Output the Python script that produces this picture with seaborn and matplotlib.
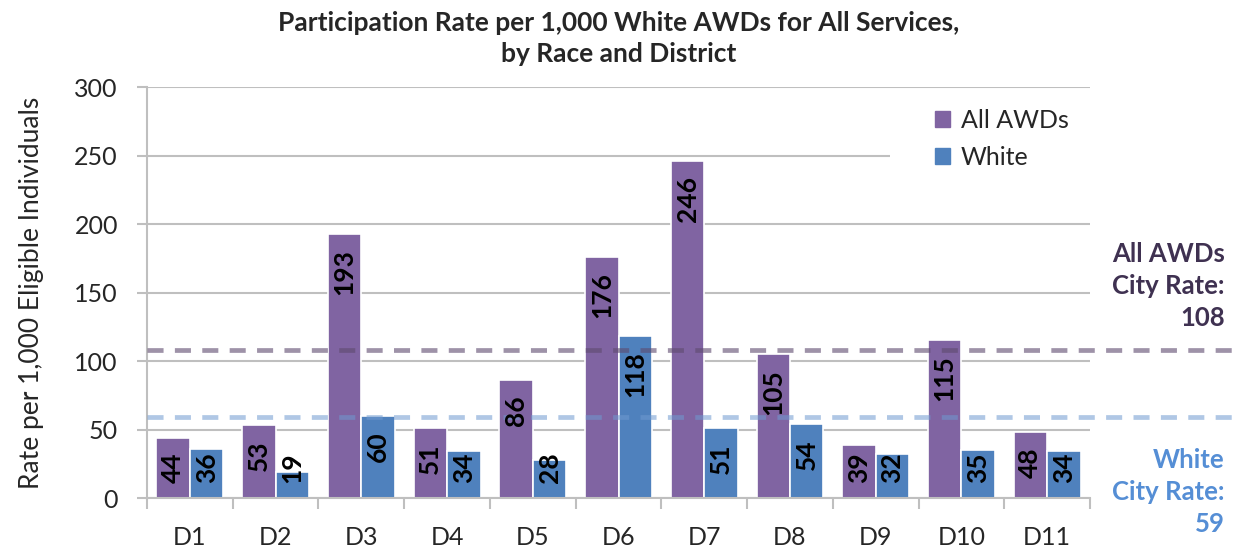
import numpy as np
import pandas as pd
import matplotlib.pyplot as plt
import seaborn as sns

# Dados
distritos = ['D1', 'D2', 'D3', 'D4', 'D5', 'D6', 'D7', 'D8', 'D9', 'D10', 'D11']
todos_awds = [44, 53, 193, 51, 86, 176, 246, 105, 39, 115, 48]
brancos = [36, 19, 60, 34, 28, 118, 51, 54, 32, 35, 34]
grupos = ['All AWDs', 'White']
taxa_cidade_todos = 108
taxa_cidade_brancos = 59

cor_roxo = '#8064A2'
cor_azul = '#4F81BD'

df = pd.DataFrame({
    'Distrito': distritos * 2,
    'Grupo': [grupos[0]] * len(distritos) + [grupos[1]] * len(distritos),
    'Taxa': todos_awds + brancos,
})

sns.set_style('white')
plt.rcParams['font.family'] = ['Lato', 'DejaVu Sans']

fig = plt.figure(figsize=(12.42, 5.5), dpi=100)
ax = fig.add_axes([0.1184, 0.0945, 0.7592, 0.7473])

sns.barplot(data=df, x='Distrito', y='Taxa', hue='Grupo', hue_order=grupos,
            palette=[cor_roxo, cor_azul], width=0.78, saturation=1,
            edgecolor='white', linewidth=1.2, ax=ax, legend=False, zorder=2)

ax.set_ylim(0, 300)
ax.set_xlim(-0.5, len(distritos) - 0.5)
ax.set_yticks(np.arange(0, 301, 50))
ax.yaxis.grid(True, color='#BFBFBF', linewidth=1.5, zorder=0)
ax.set_axisbelow(True)
for lado in ['top', 'right']:
    ax.spines[lado].set_visible(False)
for lado in ['left', 'bottom']:
    ax.spines[lado].set_color('#BFBFBF')
    ax.spines[lado].set_linewidth(1.5)

ax.tick_params(axis='y', labelsize=18, length=7, width=1.5, color='#BFBFBF', pad=14, left=True)
ax.tick_params(axis='x', which='major', labelsize=18, length=0, pad=20)
ax.set_xticks(np.arange(-0.5, len(distritos)), minor=True)
ax.tick_params(axis='x', which='minor', length=8, width=1.5, color='#BFBFBF', bottom=True)
ax.set_xlabel('')
ax.set_ylabel('Rate per 1,000 Eligible Individuals', fontsize=19, labelpad=22)

ax.set_title('Participation Rate per 1,000 White AWDs for All Services,\nby Race and District',
             fontsize=19, fontweight='bold', pad=18, linespacing=1.35)

# fundo branco da legenda (esconde a grade)
ax.add_patch(plt.Rectangle((0.788, 0.80), 0.212, 0.07, transform=ax.transAxes,
                           facecolor='white', edgecolor='none', zorder=1))

# Rótulos dentro das barras
for cont in ax.containers:
    for barra in cont:
        v = barra.get_height()
        xc = barra.get_x() + barra.get_width() / 2
        txt = f'{v:.0f}'
        topo = v - 11
        base = topo - len(txt) * 10.3
        if base >= 11:
            ax.text(xc, topo, txt, rotation=90, ha='center', va='top',
                    fontsize=19, fontweight='bold', color='black', zorder=4)
        else:
            ax.text(xc, 11, txt, rotation=90, ha='center', va='bottom',
                    fontsize=19, fontweight='bold', color='black', zorder=4)

# Linhas das taxas da cidade
fim = (1242 - 147) / 943
ax.plot([0, fim], [taxa_cidade_todos] * 2, transform=ax.get_yaxis_transform(),
        color='#5E4A6E', alpha=0.6, linewidth=3.4, dashes=(3.4, 2.4), clip_on=False, zorder=3)
ax.plot([0, fim], [taxa_cidade_brancos] * 2, transform=ax.get_yaxis_transform(),
        color='#6F9AD0', alpha=0.55, linewidth=3.4, dashes=(3.4, 2.4), clip_on=False, zorder=3)

fig.text(0.986, 1 - 286 / 550, f'All AWDs\nCity Rate:\n{taxa_cidade_todos}',
         ha='right', va='center', fontsize=18.5, fontweight='bold', color='#3F3151',
         linespacing=1.4, multialignment='right')
fig.text(0.986, 1 - 492 / 550, f'White\nCity Rate:\n{taxa_cidade_brancos}',
         ha='right', va='center', fontsize=18.5, fontweight='bold', color='#558ED5',
         linespacing=1.4, multialignment='right')

handles = [plt.Rectangle((0, 0), 1, 1, color=c) for c in [cor_roxo, cor_azul]]
leg = ax.legend(handles, grupos, loc='upper left', bbox_to_anchor=(0.814, 0.995),
                fontsize=18, frameon=False,
                handlelength=0.6, handleheight=0.6, handletextpad=0.45,
                labelspacing=0.55, borderpad=0.3)
leg.set_zorder(5)

fig.savefig('out.png', dpi=100)
